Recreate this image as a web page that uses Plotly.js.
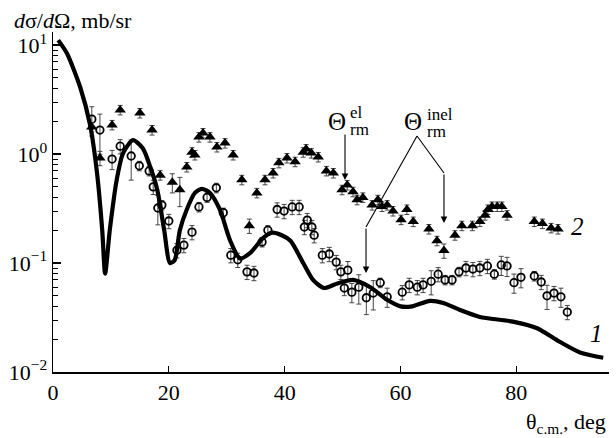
<!DOCTYPE html>
<html><head><meta charset="utf-8">
<script src="https://cdn.plot.ly/plotly-3.0.1.min.js"></script>
<style>body{margin:0;background:#fff}#plot{width:616px;height:438px}</style>
</head><body><div id="plot"></div>
<script>
// Theory curve (1)
const theoryX = [0.9, 2.4, 4.7, 6.4, 7.6, 8.5, 9.0, 9.8, 11.0, 12.1, 13.8, 15.5, 16.8, 18.0, 19.2, 20.2, 21.0, 21.9, 23.1, 24.5, 25.7, 27.1, 28.8, 30.6, 32.3, 34.0, 36.3, 37.8, 39.5, 41.0, 43.2, 44.9, 46.8, 49.1, 51.8, 54.8, 57.7, 60.0, 62.0, 65.1, 67.4, 70.3, 73.7, 79.4, 83.6, 87.0, 91.0, 95.0];
const theoryY = [11.1, 8.4, 4.1, 1.85, 0.67, 0.2, 0.08, 0.2, 0.58, 1.02, 1.34, 1.13, 0.76, 0.47, 0.2, 0.10, 0.106, 0.2, 0.31, 0.44, 0.48, 0.44, 0.31, 0.16, 0.11, 0.123, 0.17, 0.19, 0.18, 0.16, 0.10, 0.07, 0.059, 0.065, 0.07, 0.060, 0.046, 0.040, 0.040, 0.045, 0.043, 0.037, 0.032, 0.029, 0.0252, 0.0196, 0.0151, 0.0135];

// Elastic data (open circles)
const circX = [6.7, 8.1, 10.2, 11.6, 13.5, 14.9, 16.6, 17.3, 18.1, 18.8, 20.0, 21.4, 22.6, 24.0, 25.2, 26.6, 28.2, 29.4, 30.7, 31.9, 33.5, 34.7, 36.1, 37.1, 38.7, 39.9, 41.3, 42.5, 43.4, 43.9, 44.7, 45.1, 46.5, 47.7, 48.9, 49.7, 50.9, 50.3, 51.6, 52.8, 54.1, 55.3, 56.5, 57.7, 60.3, 61.5, 62.9, 63.9, 65.3, 66.5, 67.7, 68.9, 70.1, 71.3, 72.5, 73.7, 75.0, 76.2, 77.4, 78.4, 79.6, 80.8, 83.1, 84.3, 85.3, 86.5, 87.7, 88.8];
const circY = [2.09, 1.66, 0.90, 1.18, 0.96, 0.78, 0.70, 0.50, 0.32, 0.34, 0.243, 0.131, 0.146, 0.192, 0.327, 0.40, 0.49, 0.29, 0.118, 0.107, 0.083, 0.081, 0.156, 0.20, 0.31, 0.30, 0.327, 0.327, 0.214, 0.248, 0.214, 0.18, 0.118, 0.121, 0.102, 0.083, 0.086, 0.059, 0.054, 0.060, 0.048, 0.053, 0.066, 0.049, 0.054, 0.063, 0.060, 0.063, 0.068, 0.079, 0.070, 0.070, 0.083, 0.090, 0.088, 0.090, 0.094, 0.079, 0.096, 0.094, 0.066, 0.074, 0.076, 0.067, 0.050, 0.053, 0.049, 0.0355];
const circErrPct = [30, 40, 20, 15, 40, 10, 10, 15, 30, 10, 15, 15, 15, 15, 10, 10, 10, 10, 15, 15, 15, 15, 10, 10, 15, 15, 15, 15, 15, 15, 15, 15, 15, 15, 15, 15, 20, 15, 20, 30, 30, 30, 10, 20, 15, 15, 15, 15, 25, 15, 10, 10, 10, 15, 15, 15, 15, 10, 20, 20, 20, 20, 10, 15, 25, 15, 20, 15];

// Inelastic data (filled triangles, 2)
const triX = [6.7, 8.1, 10.2, 11.6, 15.0, 17.1, 18.5, 20.6, 21.9, 23.1, 24.0, 24.5, 25.2, 25.9, 27.1, 28.3, 29.7, 31.1, 32.6, 33.9, 35.2, 36.6, 38.0, 39.0, 40.4, 41.8, 43.2, 43.7, 44.6, 45.8, 47.2, 48.4, 49.9, 50.8, 51.8, 52.5, 53.5, 55.1, 56.1, 56.8, 57.7, 58.7, 60.1, 61.1, 62.2, 64.9, 66.3, 67.5, 69.4, 70.6, 72.4, 73.7, 74.6, 75.1, 75.8, 76.7, 77.5, 78.4, 83.1, 84.5, 86.0, 87.2];
const triY = [1.77, 0.92, 1.85, 2.54, 2.38, 1.66, 0.64, 0.55, 0.47, 0.76, 1.04, 0.98, 1.43, 1.56, 1.43, 1.16, 1.26, 0.98, 0.58, 0.22, 0.44, 0.58, 0.67, 0.83, 0.92, 0.85, 1.04, 1.11, 1.02, 0.94, 0.70, 0.67, 0.47, 0.52, 0.45, 0.38, 0.40, 0.34, 0.38, 0.33, 0.34, 0.30, 0.25, 0.31, 0.24, 0.205, 0.16, 0.13, 0.18, 0.22, 0.22, 0.24, 0.275, 0.31, 0.33, 0.33, 0.33, 0.275, 0.24, 0.23, 0.21, 0.205];
const triErrPct = [10, 15, 10, 10, 10, 10, 10, 20, 30, 10, 10, 10, 10, 10, 10, 10, 10, 10, 10, 15, 10, 10, 10, 10, 10, 10, 10, 10, 10, 10, 10, 10, 10, 10, 10, 10, 10, 10, 10, 10, 10, 10, 10, 10, 10, 10, 10, 15, 10, 10, 10, 10, 10, 10, 10, 10, 10, 10, 10, 10, 10, 10];

const xTicks = [0, 20, 40, 60, 80];
const yTickVals = [0.01, 0.1, 1, 10];
const yTickText = ['10<sup>−2</sup>', '10<sup>−1</sup>', '10<sup>0</sup>', '10<sup>1</sup>'];

const circErr = circY.map((v, i) => v * circErrPct[i] / 100);
const triErr = triY.map((v, i) => v * triErrPct[i] / 100);

const FONT = "'Liberation Serif', 'Times New Roman', serif";

const traces = [
  {x: circX, y: circY, type: 'scatter', mode: 'markers',
   marker: {symbol: 'circle-open', size: 7.5, color: '#000', line: {width: 1.8, color: '#000'}},
   error_y: {type: 'data', array: circErr, visible: true, color: '#333', thickness: 0.9, width: 2.5},
   hoverinfo: 'skip'},
  {x: triX, y: triY, type: 'scatter', mode: 'markers',
   marker: {symbol: 'triangle-up', size: 10, color: '#000'},
   error_y: {type: 'data', array: triErr, visible: true, color: '#333', thickness: 0.9, width: 2.5},
   hoverinfo: 'skip'},
  // theory curve on the overlay axis (same range) that carries the minor ticks
  {x: theoryX, y: theoryY, type: 'scatter', mode: 'lines', yaxis: 'y2',
   line: {color: '#000', width: 4.2, shape: 'spline', smoothing: 0.7},
   hoverinfo: 'skip'}
];

const arrowCommon = {xref: 'paper', yref: 'paper', text: '', showarrow: true, arrowhead: 2, arrowsize: 1.2, arrowwidth: 1.1, arrowcolor: '#000', ax: 0};
const annotations = [
  {xref: 'paper', yref: 'paper', x: -0.074, y: 1.035, xanchor: 'left', yanchor: 'middle', showarrow: false,
   text: '<i>d</i>σ/<i>d</i>Ω, mb/sr', font: {family: FONT, size: 22, color: '#000'}},
  {xref: 'paper', yref: 'paper', x: 0.998, y: -0.15, xanchor: 'right', yanchor: 'middle', showarrow: false,
   text: 'θ<sub>c.m.</sub>, deg', font: {family: FONT, size: 22, color: '#000'}},
  {xref: 'paper', yref: 'paper', x: 0.5108, y: 0.7382, xanchor: 'center', yanchor: 'middle', showarrow: false,
   text: 'Θ', font: {family: FONT, size: 25, color: '#000'}},
  {xref: 'paper', yref: 'paper', x: 0.5306, y: 0.7618, xanchor: 'left', yanchor: 'middle', showarrow: false,
   text: 'el', font: {family: FONT, size: 17, color: '#000'}},
  {xref: 'paper', yref: 'paper', x: 0.5306, y: 0.7147, xanchor: 'left', yanchor: 'middle', showarrow: false,
   text: 'rm', font: {family: FONT, size: 17, color: '#000'}},
  {xref: 'paper', yref: 'paper', x: 0.6475, y: 0.7353, xanchor: 'center', yanchor: 'middle', showarrow: false,
   text: 'Θ', font: {family: FONT, size: 25, color: '#000'}},
  {xref: 'paper', yref: 'paper', x: 0.6691, y: 0.7588, xanchor: 'left', yanchor: 'middle', showarrow: false,
   text: 'inel', font: {family: FONT, size: 17, color: '#000'}},
  {xref: 'paper', yref: 'paper', x: 0.6691, y: 0.7088, xanchor: 'left', yanchor: 'middle', showarrow: false,
   text: 'rm', font: {family: FONT, size: 17, color: '#000'}},
  {xref: 'paper', yref: 'paper', x: 0.9442, y: 0.4265, xanchor: 'center', yanchor: 'middle', showarrow: false,
   text: '<i>2</i>', font: {family: FONT, size: 25, color: '#000'}},
  {xref: 'paper', yref: 'paper', x: 0.9784, y: 0.1147, xanchor: 'center', yanchor: 'middle', showarrow: false,
   text: '<i>1</i>', font: {family: FONT, size: 25, color: '#000'}},
  Object.assign({}, arrowCommon, {x: 0.5252, y: 0.5647, ay: -47}),
  Object.assign({}, arrowCommon, {x: 0.5630, y: 0.2912, ay: -46}),
  Object.assign({}, arrowCommon, {x: 0.7032, y: 0.4382, ay: -50})
];

const shapes = [
  {type: 'line', xref: 'paper', yref: 'paper', x0: 0.5630, y0: 0.4265, x1: 0.6547, y1: 0.6941, line: {color: '#000', width: 1.1}},
  {type: 'line', xref: 'paper', yref: 'paper', x0: 0.6547, y0: 0.6941, x1: 0.7032, y1: 0.5853, line: {color: '#000', width: 1.1}}
];

const layout = {
  width: 616, height: 438,
  margin: {l: 53, r: 7, t: 32, b: 66},
  paper_bgcolor: '#fff', plot_bgcolor: '#fff',
  showlegend: false,
  font: {family: FONT, color: '#000'},
  xaxis: {range: [0, 96], tickvals: xTicks, ticktext: xTicks.map(String), ticks: 'inside', ticklen: 6, tickwidth: 1.2,
          tickcolor: '#000', showline: true, linecolor: '#000', linewidth: 1.5, showgrid: false, zeroline: false,
          tickfont: {family: FONT, size: 22, color: '#000'}},
  yaxis: {type: 'log', range: [-2, 1.12], tickvals: yTickVals, ticktext: yTickText, ticks: 'inside', ticklen: 8, tickwidth: 1.2,
          tickcolor: '#000', showline: true, linecolor: '#000', linewidth: 1.5, showgrid: false, zeroline: false,
          tickfont: {family: FONT, size: 22, color: '#000'}},
  yaxis2: {type: 'log', range: [-2, 1.12], overlaying: 'y', side: 'left', dtick: 'D1', ticks: 'inside', ticklen: 5, tickwidth: 1,
           tickcolor: '#000', showticklabels: false, showline: false, showgrid: false, zeroline: false},
  annotations: annotations,
  shapes: shapes
};

Plotly.newPlot('plot', traces, layout, {staticPlot: true, displayModeBar: false});
</script>
</body></html>
